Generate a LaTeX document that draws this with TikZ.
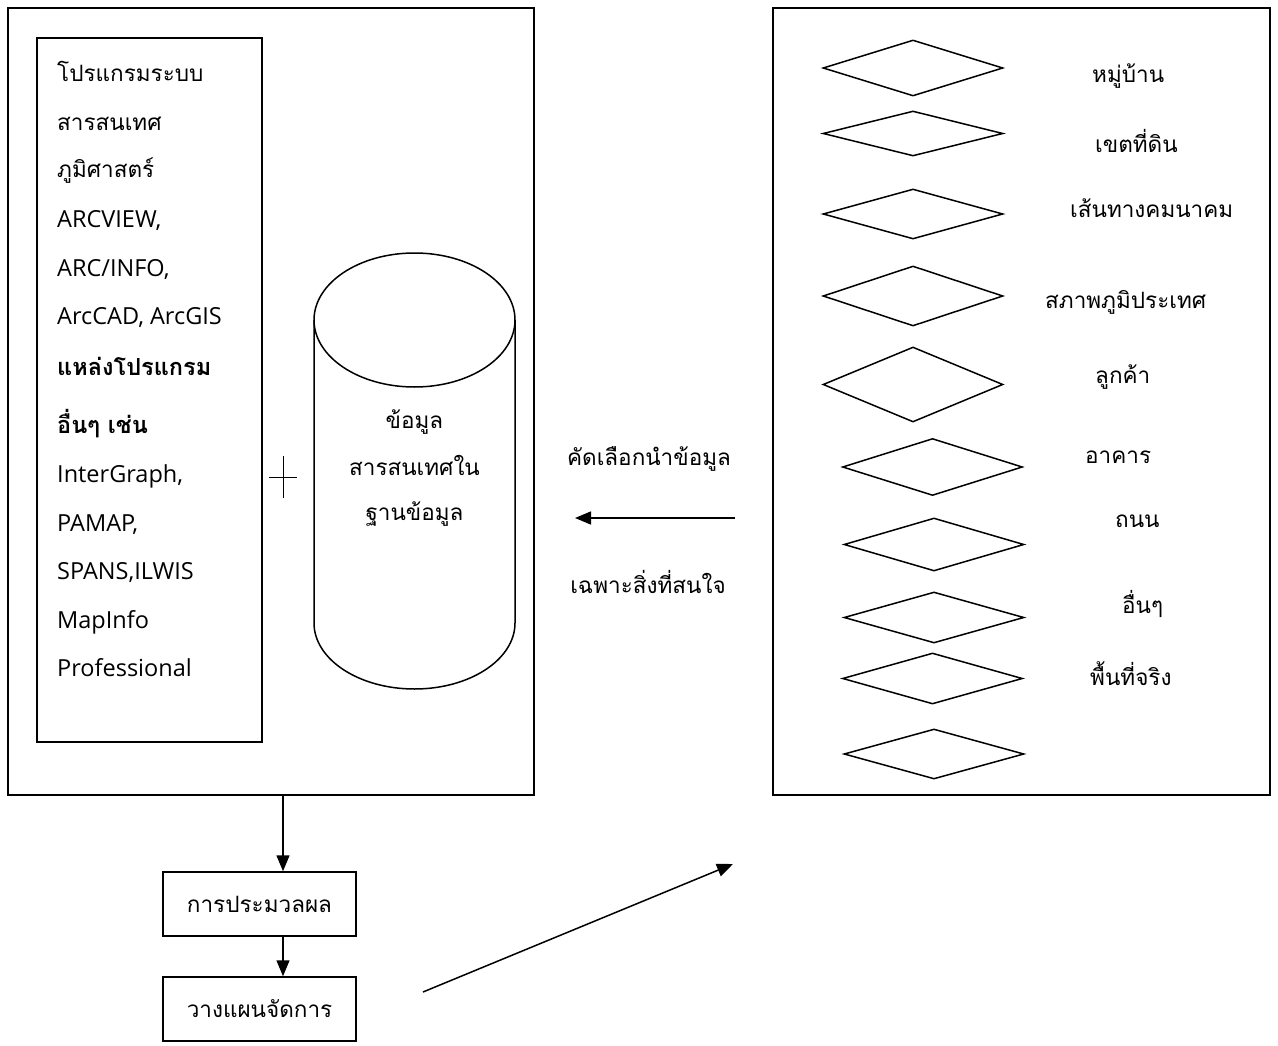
\documentclass[tikz,border=0pt]{standalone}
\usepackage{fontspec}
\setmainfont{Open Sans}
\newfontfamily\thaifont[Script=Thai]{Loma}
\usetikzlibrary{shapes.geometric, arrows.meta, positioning}
\tikzset{
  frame/.style={draw, line width=1.5pt, inner sep=0pt},
  procbox/.style={draw, line width=1.5pt, minimum width=193pt, minimum height=64pt,
    inner sep=0pt, font=\thaifont\fontsize{22.5}{26}\selectfont},
  layer/.style={diamond, draw, line width=1.5pt, inner sep=0pt, minimum width=180pt},
  thaitxt/.style={font=\thaifont\fontsize{22.5}{26}\selectfont, inner sep=0pt, anchor=base west},
  thaibold/.style={font=\thaifont\bfseries\fontsize{23.5}{28}\selectfont, inner sep=0pt, anchor=base west},
  lattxt/.style={font=\fontsize{23.5}{28}\selectfont, inner sep=0pt, anchor=base west},
  arrow/.style={-{Triangle[length=16pt,width=13pt]}, line width=1.5pt},
  line/.style={line width=1.5pt}
}
\begin{document}
\begin{tikzpicture}[x=1pt, y=-1pt]
  \useasboundingbox (0,0) rectangle (1278,1046);

  % GIS software and database
  \node[frame, minimum width=526pt, minimum height=787pt] (gisbox) at (271,401.5) {};
  \node[frame, minimum width=225pt, minimum height=704pt] (softbox) at (149.5,390) {};
  \node[thaitxt] (s1) at (57,82) {โปรแกรมระบบ};
  \node[thaitxt] (s2) at (57,131) {สารสนเทศ};
  \node[thaitxt] (s3) at (57,178) {ภูมิศาสตร์};
  \node[lattxt] (s4) at (57,228) {ARCVIEW,};
  \node[lattxt] (s5) at (57,276) {ARC/INFO,};
  \node[lattxt] (s6) at (57,324) {ArcCAD, ArcGIS};
  \node[thaibold] (s7) at (57,375) {แหล่งโปรแกรม};
  \node[thaibold] (s8) at (57,433) {อื่นๆ เช่น};
  \node[lattxt] (s9) at (57,482) {InterGraph,};
  \node[lattxt] (s10) at (57,531) {PAMAP,};
  \node[lattxt] (s11) at (57,579) {SPANS,ILWIS};
  \node[lattxt] (s12) at (57,628) {MapInfo};
  \node[lattxt] (s13) at (57,676) {Professional};

  \draw[line width=1pt] (269,477) -- (297,477) (283,456) -- (283,498);

  \draw[line] (314,320) -- (314,623) arc[start angle=180, end angle=0, x radius=100.5, y radius=66] -- (515,320);
  \draw[line] (414.5,320) ellipse [x radius=100.5, y radius=67];
  \node[thaitxt, anchor=base] (db1) at (414.5,428) {ข้อมูล};
  \node[thaitxt, anchor=base] (db2) at (414.5,475) {สารสนเทศใน};
  \node[thaitxt, anchor=base] (db3) at (414.5,520) {ฐานข้อมูล};

  % real world layers
  \node[frame, minimum width=497pt, minimum height=787pt] (worldbox) at (1021.5,401.5) {};
  \node[layer, minimum height=56pt] (d1) at (913,68) {};
  \node[layer, minimum height=45pt] (d2) at (913,133.5) {};
  \node[layer, minimum height=50pt] (d3) at (913,214) {};
  \node[layer, minimum height=60pt] (d4) at (913,296) {};
  \node[layer, minimum height=75pt] (d5) at (913,384.5) {};
  \node[layer, minimum height=57pt] (d6) at (932.5,467) {};
  \node[layer, minimum height=53pt] (d7) at (934,544.5) {};
  \node[layer, minimum height=51pt] (d8) at (934,617.5) {};
  \node[layer, minimum height=51pt] (d9) at (932.5,678.5) {};
  \node[layer, minimum height=50pt] (d10) at (934,754) {};

  \node[thaitxt] (w1) at (1092,83) {หมู่บ้าน};
  \node[thaitxt] (w2) at (1095,153) {เขตที่ดิน};
  \node[thaitxt] (w3) at (1070,218) {เส้นทางคมนาคม};
  \node[thaitxt] (w4) at (1045,308) {สภาพภูมิประเทศ};
  \node[thaitxt] (w5) at (1095,383) {ลูกค้า};
  \node[thaitxt] (w6) at (1085,463) {อาคาร};
  \node[thaitxt] (w7) at (1115,527) {ถนน};
  \node[thaitxt] (w8) at (1122,613) {อื่นๆ};
  \node[thaitxt] (w9) at (1090,685) {พื้นที่จริง};

  % selection arrow
  \coordinate (selfrom) at (735,518);
  \coordinate (selto) at (575,518);
  \draw[arrow] (selfrom) -- (selto);
  \node[thaitxt, anchor=base] (sel1) at (649,465) {คัดเลือกนำข้อมูล};
  \node[thaitxt, anchor=base] (sel2) at (648,593) {เฉพาะสิ่งที่สนใจ};

  % processing and planning
  \node[procbox] (proc) at (259.5,904) {การประมวลผล};
  \node[procbox] (plan) at (259.5,1009) {วางแผนจัดการ};
  \coordinate (gisout) at (283,795);
  \draw[arrow] (gisout) -- (gisout |- proc.north);
  \draw[arrow] (proc.south -| gisout) -- (plan.north -| gisout);
  \coordinate (backfrom) at (423,992);
  \coordinate (backto) at (733,864);
  \draw[arrow] (backfrom) -- (backto);
\end{tikzpicture}
\end{document}
